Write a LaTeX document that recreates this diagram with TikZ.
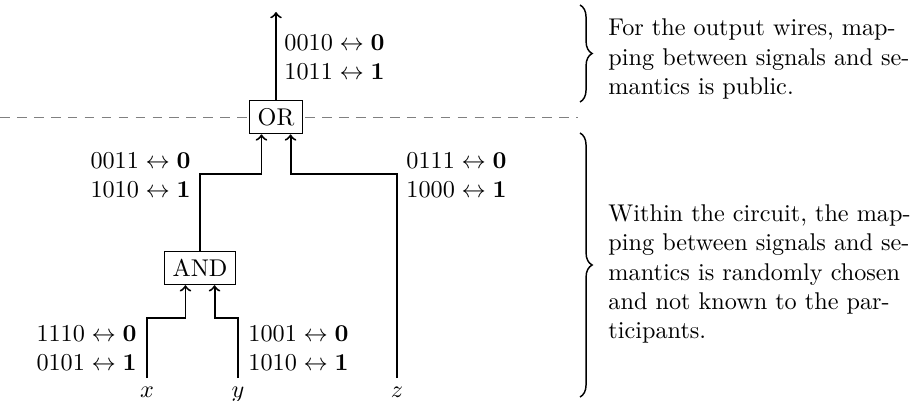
\documentclass[tikz,border=0pt]{standalone}
\usetikzlibrary{decorations.pathreplacing}
\newcommand{\fullline}[1]{\makebox[124.8pt][s]{#1}}
\begin{document}
\begin{tikzpicture}[x=0.413pt,y=-0.413pt,
  gate/.style={draw,fill=white,inner sep=3.33pt},
  wire/.style={thick,->},
  lbl/.style={inner sep=0pt,align=left},
  var/.style={anchor=base,inner sep=3.33pt},
  note/.style={inner sep=0pt,anchor=west,text width=124.8pt,font=\fontsize{10}{12}\selectfont,align=left},
  brc/.style={semithick,decorate,decoration={brace,amplitude=5pt}},
  sepline/.style={gray,dash pattern=on 4pt off 3pt}]
\useasboundingbox (0,0) rectangle (912,400);
\draw[sepline] (0,117) -- (578,117);
\node[gate] (or) at (276,117) {OR};
\node[gate] (and) at (200,268) {AND};
\node[var] (xin) at (147,397) {$x$};
\node[var] (yin) at (238,397) {$y$};
\node[var] (zin) at (397,397) {$z$};
\coordinate (out) at (276,12);
\draw[wire] (or) -- (out);
\draw[wire] (and.north) |- ([xshift=-6pt,yshift=-16.5pt]or.south) -- ([xshift=-6pt]or.south);
\draw[wire] (zin.north) |- ([xshift=6pt,yshift=-16.5pt]or.south) -- ([xshift=6pt]or.south);
\draw[wire] (xin.north) |- ([xshift=-6pt,yshift=-13.5pt]and.south) -- ([xshift=-6pt]and.south);
\draw[wire] (yin.north) |- ([xshift=6pt,yshift=-13.5pt]and.south) -- ([xshift=6pt]and.south);
\node[lbl,anchor=west] (lout) at (284,57) {$0010 \leftrightarrow \mathbf{0}$\\$1011 \leftrightarrow \mathbf{1}$};
\node[lbl,anchor=east] (land) at (191,175) {$0011 \leftrightarrow \mathbf{0}$\\$1010 \leftrightarrow \mathbf{1}$};
\node[lbl,anchor=west] (lz) at (406,175) {$0111 \leftrightarrow \mathbf{0}$\\$1000 \leftrightarrow \mathbf{1}$};
\node[lbl,anchor=east] (lx) at (137,348) {$1110 \leftrightarrow \mathbf{0}$\\$0101 \leftrightarrow \mathbf{1}$};
\node[lbl,anchor=west] (ly) at (248,348) {$1001 \leftrightarrow \mathbf{0}$\\$1010 \leftrightarrow \mathbf{1}$};
\coordinate (b1s) at (580,5);
\coordinate (b1e) at (580,102);
\coordinate (b2s) at (580,133);
\coordinate (b2e) at (580,397);
\draw[brc] (b1s) -- (b1e);
\draw[brc] (b2s) -- (b2e);
\node[note] (n1) at (608,59) {\fullline{For the output wires, map-}\\\fullline{ping between signals and se-}\\mantics is public.};
\node[note] (n2) at (608,274) {\fullline{Within the circuit, the map-}\\\fullline{ping between signals and se-}\\\fullline{mantics is randomly chosen}\\\fullline{and not known to the par-}\\ticipants.};
\end{tikzpicture}
\end{document}
